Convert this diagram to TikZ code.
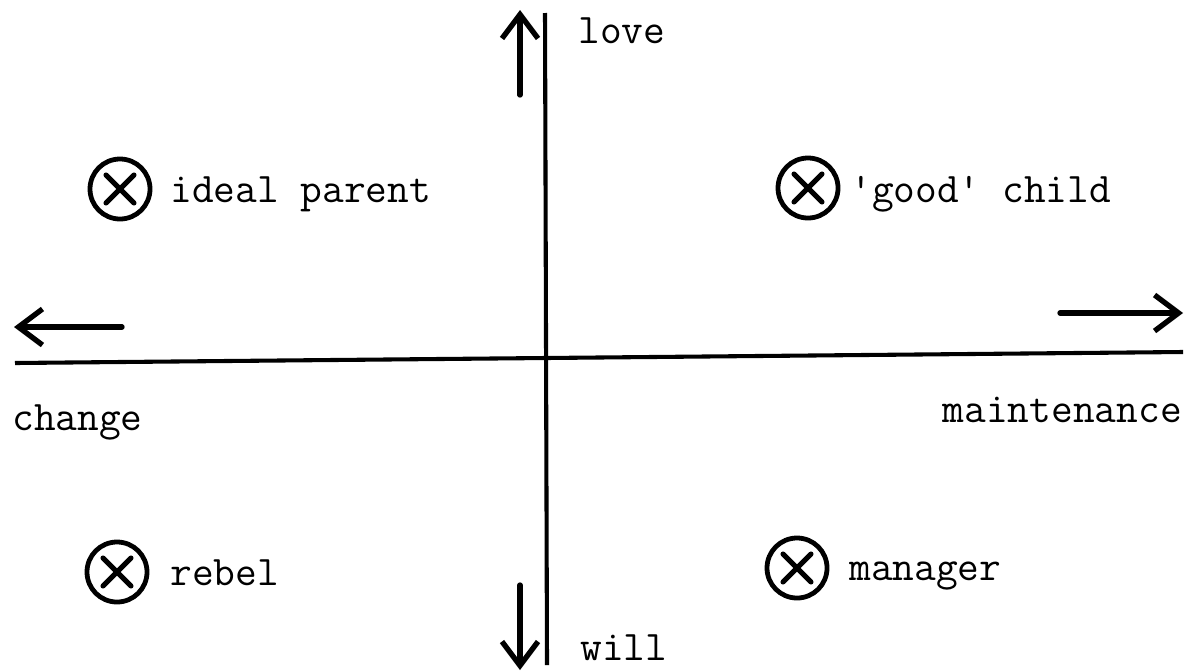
\documentclass[tikz,border=0pt]{standalone}
\usetikzlibrary{arrows.meta}

\begin{document}
\begin{tikzpicture}[
    x=0.025cm, y=-0.025cm,
    >={Straight Barb[length=0.6cm, width=0.9cm]},
    axis/.style={line width=2.9pt},
    dirarrow/.style={->, line width=3.8pt, line cap=round},
    label/.style={font=\ttfamily\fontsize{30}{34}\selectfont, inner sep=0pt},
    crossmark/.style={circle, draw, line width=3.4pt, minimum size=1.5cm,
        path picture={
            \draw[line width=3.6pt, line cap=round]
                ([shift={(-14,-14)}]path picture bounding box.center) --
                ([shift={(14,14)}]path picture bounding box.center)
                ([shift={(-14,14)}]path picture bounding box.center) --
                ([shift={(14,-14)}]path picture bounding box.center);
        }}
]
    \useasboundingbox (0,0) rectangle (1187,671);

    % axes
    \coordinate (west) at (15,363);
    \coordinate (east) at (1183,352);
    \coordinate (north) at (545,13);
    \coordinate (south) at (547,665);
    \draw[axis] (west) -- (east);
    \draw[axis] (north) -- (south);

    % direction arrows
    \coordinate (upfrom) at (520,95);
    \coordinate (upto) at (520,10);
    \coordinate (downfrom) at (520,585);
    \coordinate (downto) at (520,670);
    \coordinate (leftfrom) at (122,327);
    \coordinate (leftto) at (14,327);
    \coordinate (rightfrom) at (1060,313);
    \coordinate (rightto) at (1183,313);
    \draw[dirarrow] (upfrom) -- (upto);
    \draw[dirarrow] (downfrom) -- (downto);
    \draw[dirarrow] (leftfrom) -- (leftto);
    \draw[dirarrow] (rightfrom) -- (rightto);

    % axis labels
    \node[label, anchor=base west] (love) at (578,43) {love};
    \node[label, anchor=base west] (will) at (580,660) {will};
    \node[label, anchor=base west] (change) at (12,430) {change};
    \node[label, anchor=base east] (maintenance) at (1182,422) {maintenance};

    % roles
    \node[crossmark] (parentmark) at (120,189) {};
    \node[label, anchor=base west] (parent) at (170,202) {ideal parent};
    \node[crossmark] (childmark) at (808,188) {};
    \node[label, anchor=base west] (child) at (850,202) {'good' child};
    \node[crossmark] (rebelmark) at (117,572) {};
    \node[label, anchor=base west] (rebel) at (170,585) {rebel};
    \node[crossmark] (managermark) at (797,568) {};
    \node[label, anchor=base west] (manager) at (849,580) {manager};
\end{tikzpicture}
\end{document}
